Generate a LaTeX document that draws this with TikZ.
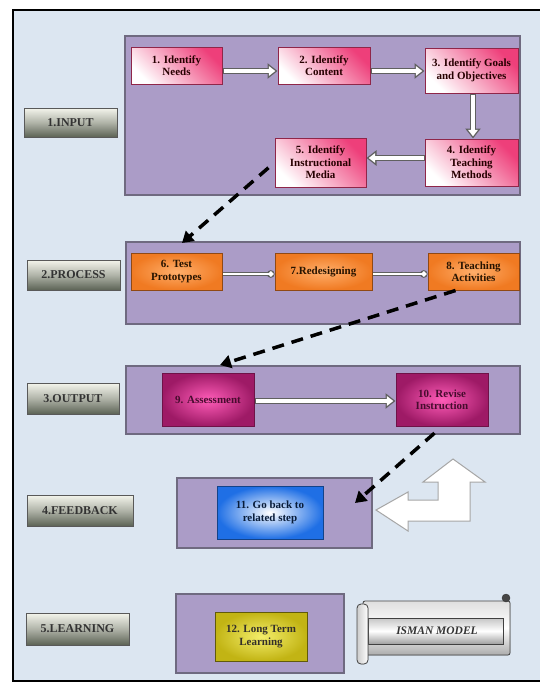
\documentclass[tikz,border=0pt]{standalone}
\usepackage{fontspec}
\setmainfont{Liberation Serif}
\usepackage{tikz}
\usetikzlibrary{arrows.meta}
\usetikzlibrary{positioning}

\definecolor{bgblue}{HTML}{DCE6F1}
\definecolor{panelfill}{HTML}{AB9CC7}
\definecolor{paneledge}{HTML}{6F6A80}
\definecolor{inpink}{HTML}{EE3F7A}
\definecolor{procorange}{HTML}{FF9A45}
\definecolor{procdeep}{HTML}{F07A22}
\definecolor{outmag}{HTML}{FF5CB8}
\definecolor{outdark}{HTML}{9E1A66}
\definecolor{fbblue}{HTML}{1F6FE5}
\definecolor{lrnyellow}{HTML}{F4EE6A}
\definecolor{lrnolive}{HTML}{C2B414}
\definecolor{labtop}{HTML}{F4F5EC}
\definecolor{labbot}{HTML}{5C6355}

\begin{document}
\begin{tikzpicture}[x=1pt,y=-1pt,
	panel/.style={fill=panelfill,draw=paneledge,line width=1.2pt},
	step node/.style={rectangle,align=center,inner sep=1pt,line width=1pt,
		font=\bfseries\fontsize{11}{12.5}\selectfont},
	input node/.style={step node,draw=inpink!60!black,text=black!85!red,
		top color=inpink,bottom color=white,shading angle=-45},
	process node/.style={step node,draw=procdeep!60!black,text=black!85!orange,
		inner color=procorange!80!white,outer color=procdeep},
	output node/.style={step node,draw=outdark!70!black,text=outdark!45!black,
		inner color=outmag,outer color=outdark},
	feedback node/.style={step node,draw=fbblue!60!black,text=fbblue!25!black,
		inner color=white,outer color=fbblue},
	learning node/.style={step node,draw=lrnolive!50!black,text=black!85!olive,
		inner color=lrnyellow,outer color=lrnolive},
	stage label/.style={rectangle,draw=black!65,line width=0.8pt,text=black!80,
		top color=labtop,bottom color=labbot,middle color=labtop!55!labbot,
		font=\bfseries\fontsize{12}{13}\selectfont},
	hollow arrow/.style={draw=gray!75!black,line width=6.5pt,-{Triangle[length=10pt,width=15pt]},
		postaction={draw=white,line width=3.6pt,-{Triangle[length=6.5pt,width=9.6pt]},
		shorten >=2.2pt,shorten <=1pt}},
	thin arrow/.style={draw=gray!75!black,line width=3.4pt,-{Circle[length=7.5pt]},
		postaction={draw=white,line width=1.8pt,-{Circle[length=5.2pt]},
		shorten >=1.1pt,shorten <=0.8pt}},
	dash arrow/.style={draw=black,line width=3.5pt,dash pattern=on 12pt off 8pt,
		-{Triangle[length=11pt,width=13pt]}}]

	\useasboundingbox (0,0) rectangle (540,683);
	\fill[white] (0,0) rectangle (540,683);
	\fill[bgblue] (13,10) rectangle (540,681);
	\draw[line width=2pt] (541,10) -- (13,10) -- (13,681) -- (541,681);

	\filldraw[panel] (125,36) rectangle (520,195);
	\filldraw[panel] (126,242) rectangle (520,324);
	\filldraw[panel] (126,366) rectangle (520,434);
	\filldraw[panel] (177,478) rectangle (372,548);
	\filldraw[panel] (176,594) rectangle (344,673);

	\node[stage label,minimum width=93pt,minimum height=29pt] (l1) at (70.5,122.5) {1.INPUT};
	\node[stage label,minimum width=93pt,minimum height=30pt] (l2) at (73.5,275) {2.PROCESS};
	\node[stage label,minimum width=92pt,minimum height=31pt] (l3) at (73,398.5) {3.OUTPUT};
	\node[stage label,minimum width=106pt,minimum height=31pt] (l4) at (80,510.5) {4.FEEDBACK};
	\node[stage label,minimum width=103pt,minimum height=32pt] (l5) at (77.5,629) {5.LEARNING};

	\node[input node,minimum width=91pt,minimum height=37pt] (1) at (176.5,65.5) {1. Identify\\Needs};
	\node[input node,minimum width=92pt,minimum height=37pt] (2) [right=55pt of 1] {2. Identify\\Content};
	\node[input node,minimum width=93pt,minimum height=45pt] (3) at (471.5,70.5) {3. Identify Goals\\and Objectives};
	\node[input node,minimum width=93pt,minimum height=47pt] (4) [below=45pt of 3] {4. Identify\\Teaching\\Methods};
	\node[input node,minimum width=91pt,minimum height=49pt] (5) [left=58pt of 4] {5. Identify\\Instructional\\Media};

	\node[process node,minimum width=91pt,minimum height=37pt] (6) at (176.5,271.5) {6. Test\\Prototypes};
	\node[process node,minimum width=97pt,minimum height=37pt] (7) [right=52pt of 6] {7.Redesigning};
	\node[process node,minimum width=91pt,minimum height=37pt] (8) [right=55pt of 7] {8. Teaching\\Activities};

	\node[output node,minimum width=92pt,minimum height=53pt] (9) at (208,399.5) {9. Assessment};
	\node[output node,minimum width=92pt,minimum height=53pt] (10) [right=141pt of 9] {10. Revise\\Instruction};

	\node[feedback node,minimum width=106pt,minimum height=53pt] (11) at (270,512.5) {11. Go back to\\related step};
	\node[learning node,minimum width=92pt,minimum height=49pt] (12) at (261,636.5) {12. Long Term\\Learning};

	\coordinate (procin) at (182,243);
	\coordinate (outin) at (220,365);
	\coordinate (fbin) at (355,503);

	\path ([yshift=-5.5pt]1.east) edge[hollow arrow] ([yshift=-5.5pt]2.west)
		([yshift=-5.5pt]2.east) edge[hollow arrow] ([yshift=-0.5pt]3.west)
		([xshift=1.5pt]3.south) edge[hollow arrow] ([xshift=1.5pt]4.north)
		([yshift=4.5pt]4.west) edge[hollow arrow] ([yshift=4.5pt]5.east)
		([yshift=-2.5pt]6.east) edge[thin arrow] ([yshift=-2.5pt]7.west)
		([yshift=-2.5pt]7.east) edge[thin arrow] ([yshift=-2.5pt]8.west)
		([yshift=-1.5pt]9.east) edge[hollow arrow] ([yshift=-1.5pt]10.west);

	\path (5.west) edge[dash arrow,shorten <=8pt] (procin)
		([xshift=-18pt]8.south) edge[dash arrow] (outin)
		(10.south) edge[dash arrow,shorten <=10pt] (fbin);

	\filldraw[fill=white,draw=gray!70,line width=1pt] (376,510) -- (408,492) -- (408,500)
		-- (438,500) -- (438,482) -- (423,482) -- (453,459) -- (485,482) -- (470,482)
		-- (470,521) -- (408,521) -- (408,531) -- cycle;

	\filldraw[draw=gray!55!black,line width=0.8pt,rounded corners=2pt,top color=gray!25,
		bottom color=gray!65,middle color=white] (363,601) rectangle (510,655);
	\filldraw[draw=gray!50!black,line width=0.8pt,top color=gray!45,bottom color=gray!75,
		middle color=white,shading angle=0] (368,618) rectangle (503,644);
	\filldraw[draw=gray!55!black,line width=0.8pt,rounded corners=4pt,left color=gray!40,
		right color=white] (357,604) rectangle (368,664);
	\filldraw[fill=gray!55!black,draw=gray!40!black] (506,598) circle (4pt);
	\node[font=\bfseries\itshape\fontsize{11.5}{12}\selectfont,text=black!80] (model) at (437,631) {ISMAN MODEL};

\end{tikzpicture}
\end{document}
